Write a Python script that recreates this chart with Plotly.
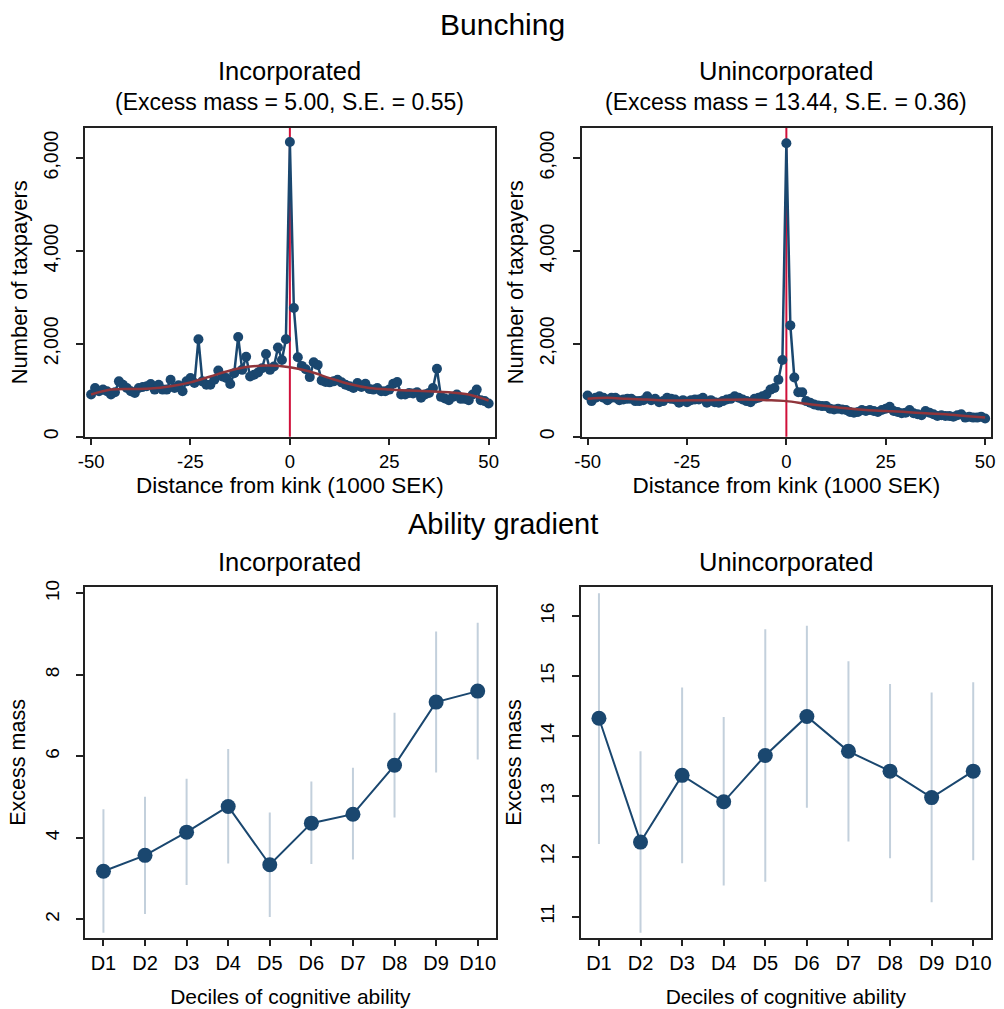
import plotly.graph_objects as go

# bins: distance from the kink in 1000 SEK
BINS = list(range(-50, 51))
KINK = 0

INC_COUNTS = [
    908, 1049, 978, 1014, 978, 908, 957, 1191, 1120, 1049,
    978, 943, 1049, 1071, 1085, 1134, 1014, 1120, 1014, 1014,
    1227, 1049, 1106, 978, 1191, 1262, 1156, 2099, 1191, 1120,
    1120, 1227, 1425, 1297, 1262, 1134, 1368, 2148, 1439, 1723,
    1297, 1333, 1383, 1475, 1780, 1439, 1510, 1921, 1652, 2099,
    6346,
    2772, 1709, 1524, 1453, 1283, 1602, 1546, 1212, 1177, 1170,
    1191, 1227, 1170, 1120, 1085, 1049, 1156, 1071, 1141, 1028,
    1014, 1049, 978, 978, 1014, 1141, 1177, 908, 908, 943,
    929, 957, 837, 908, 943, 1049, 1461, 858, 822, 787,
    858, 908, 815, 815, 787, 908, 1014, 787, 766, 716,
]
UNINC_COUNTS = [
    886, 766, 837, 872, 837, 787, 837, 837, 787, 801,
    815, 815, 766, 766, 787, 872, 787, 815, 744, 766,
    837, 815, 801, 730, 787, 744, 787, 801, 801, 837,
    730, 787, 744, 730, 766, 801, 815, 872, 837, 801,
    766, 744, 815, 837, 872, 908, 1014, 1049, 1227, 1652,
    6317,
    2396, 1276, 957, 957, 766, 730, 695, 674, 659, 659,
    603, 588, 603, 588, 574, 532, 518, 532, 574, 553,
    574, 553, 532, 574, 603, 645, 553, 532, 503, 518,
    574, 503, 482, 461, 553, 518, 482, 447, 461, 447,
    447, 432, 461, 482, 411, 432, 411, 411, 432, 390,
]

# counterfactual fit, read every 5 bins
FIT_BINS = list(range(-50, 51, 5))
INC_FIT = [908, 1014, 1028, 1035, 1085, 1170, 1297, 1425, 1510, 1531, 1496,
           1404, 1262, 1134, 1049, 1014, 993, 978, 957, 908, 780]
UNINC_FIT = [815, 837, 815, 801, 780, 783, 787, 795, 801, 787, 766,
             709, 659, 610, 574, 553, 532, 503, 482, 447, 411]

INC_EXCESS, INC_SE = 5.00, 0.55
UNINC_EXCESS, UNINC_SE = 13.44, 0.36

DECILES = ["D1", "D2", "D3", "D4", "D5", "D6", "D7", "D8", "D9", "D10"]
INC_MASS = [3.18, 3.57, 4.14, 4.77, 3.34, 4.36, 4.58, 5.78, 7.33, 7.60]
INC_LO = [1.67, 2.13, 2.84, 3.37, 2.06, 3.36, 3.47, 4.50, 5.60, 5.92]
INC_HI = [4.70, 5.01, 5.45, 6.18, 4.62, 5.38, 5.72, 7.07, 9.06, 9.28]
UNINC_MASS = [14.30, 12.24, 13.35, 12.91, 13.68, 14.33, 13.75, 13.42, 12.98, 13.42]
UNINC_LO = [12.21, 10.73, 11.89, 11.52, 11.58, 12.81, 12.25, 11.97, 11.24, 11.94]
UNINC_HI = [16.38, 13.75, 14.81, 14.32, 15.78, 15.84, 15.25, 14.87, 14.73, 14.90]

NAVY = "#1a476f"
MAROON = "#90353b"
RED = "#d0103a"
CI = "#c3d0dc"
W, H = 1004, 1009

fig = go.Figure()

# --- bunching panels ---
for i, (counts, fit) in enumerate([(INC_COUNTS, INC_FIT), (UNINC_COUNTS, UNINC_FIT)]):
    xa, ya = ("x", "y") if i == 0 else ("x2", "y2")
    fig.add_trace(go.Scatter(x=BINS, y=counts, mode="lines+markers", xaxis=xa, yaxis=ya,
                             line=dict(color=NAVY, width=2.5),
                             marker=dict(color=NAVY, size=10)))
    fig.add_trace(go.Scatter(x=FIT_BINS, y=fit, mode="lines", xaxis=xa, yaxis=ya,
                             line=dict(color=MAROON, width=2.5, shape="spline")))
    fig.add_shape(type="line", xref=xa, yref=ya + " domain", x0=KINK, x1=KINK, y0=0, y1=1,
                  line=dict(color=RED, width=2), layer="below")

# --- ability gradient panels ---
for i, (mass, lo, hi) in enumerate([(INC_MASS, INC_LO, INC_HI), (UNINC_MASS, UNINC_LO, UNINC_HI)]):
    xa, ya = ("x3", "y3") if i == 0 else ("x4", "y4")
    fig.add_trace(go.Scatter(x=DECILES, y=mass, mode="markers", xaxis=xa, yaxis=ya,
                             marker=dict(size=1, opacity=0),
                             error_y=dict(type="data", symmetric=False,
                                          array=[h - m for h, m in zip(hi, mass)],
                                          arrayminus=[m - l for m, l in zip(mass, lo)],
                                          color=CI, thickness=2, width=0)))
    fig.add_trace(go.Scatter(x=DECILES, y=mass, mode="lines+markers", xaxis=xa, yaxis=ya,
                             line=dict(color=NAVY, width=2),
                             marker=dict(color=NAVY, size=15)))

axis_style = dict(showline=True, linecolor="#222", linewidth=1.5, mirror=True,
                  ticks="outside", ticklen=7, tickwidth=1.5, tickcolor="#222",
                  showgrid=False, zeroline=False)

top_y = dict(domain=[1 - 434 / H, 1 - 122 / H], range=[0, 6650],
             tickvals=[0, 2000, 4000, 6000], ticktext=["0", "2,000", "4,000", "6,000"],
             tickangle=-90, tickfont=dict(size=19.5), ticklabelstandoff=11,
             title=dict(text="Number of taxpayers", font=dict(size=22), standoff=6), **axis_style)
top_x = dict(range=[-51.5, 51.5], tickvals=[-50, -25, 0, 25, 50],
             ticktext=["-50", "-25", "0", "25", "50"], tickfont=dict(size=18.5),
             title=dict(text="Distance from kink (1000 SEK)", font=dict(size=22.5), standoff=7),
             **axis_style)
bot_x = dict(type="category", range=[-0.44, 9.43], tickfont=dict(size=20),
             title=dict(text="Deciles of cognitive ability", font=dict(size=21), standoff=16),
             **axis_style)
bot_y = dict(domain=[1 - 940 / H, 1 - 586 / H], tickangle=-90, tickfont=dict(size=19),
             ticklabelstandoff=10,
             title=dict(text="Excess mass", font=dict(size=21.5), standoff=10), **axis_style)

fig.update_layout(
    xaxis=dict(domain=[79 / W, 493 / W], anchor="y", **top_x),
    yaxis=dict(anchor="x", **top_y),
    xaxis2=dict(domain=[581 / W, 995 / W], anchor="y2", **top_x),
    yaxis2=dict(anchor="x2", **top_y),
    xaxis3=dict(domain=[79 / W, 494 / W], anchor="y3", **bot_x),
    yaxis3=dict(anchor="x3", range=[1.55, 10.15], tickvals=[2, 4, 6, 8, 10], **bot_y),
    xaxis4=dict(domain=[580 / W, 995 / W], anchor="y4", **bot_x),
    yaxis4=dict(anchor="x4", range=[10.65, 16.48], tickvals=[11, 12, 13, 14, 15, 16], **bot_y),
)

def label(text, xc, yc, size):
    # yc is the visual centre of the capitals; the text box sits a bit lower
    fig.add_annotation(text=text, x=xc / W, y=1 - (yc - 0.22 * size) / H,
                       xref="paper", yref="paper", showarrow=False,
                       xanchor="center", yanchor="middle",
                       font=dict(size=size, color="black"))

label("Bunching", 501, 24, 30)
label("Incorporated", 286, 70, 25.5)
label(f"(Excess mass = {INC_EXCESS:.2f}, S.E. = {INC_SE:.2f})", 286, 101, 23)
label("Unincorporated", 788, 70, 25.5)
label(f"(Excess mass = {UNINC_EXCESS:.2f}, S.E. = {UNINC_SE:.2f})", 788, 101, 23)
label("Ability gradient", 501, 529, 29)
label("Incorporated", 286, 566, 25.5)
label("Unincorporated", 788, 566, 25.5)

fig.update_layout(width=W, height=H, margin=dict(l=0, r=0, t=0, b=0),
                  plot_bgcolor="white", paper_bgcolor="white", showlegend=False,
                  font=dict(family="Liberation Sans, Arial, sans-serif", color="black"))

# drop the browser's default page margin so the figure fills the window
fig.write_html("out.html", config={"displayModeBar": False},
               post_script="document.body.style.margin = '0';")
